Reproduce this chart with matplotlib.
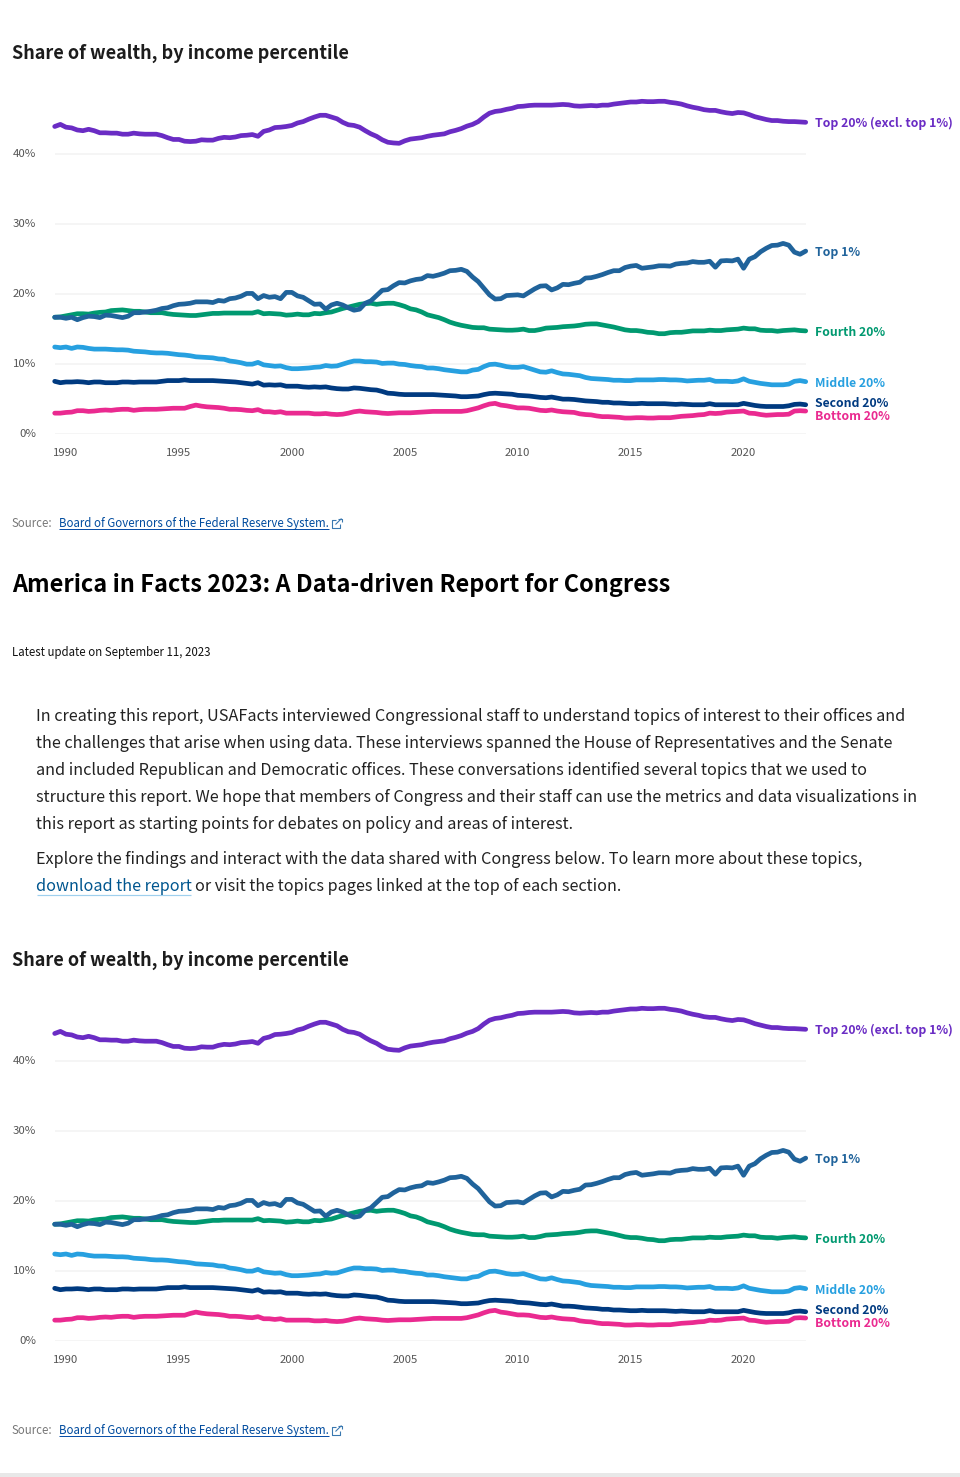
import matplotlib
matplotlib.use("Agg")
import matplotlib.pyplot as plt
from matplotlib.lines import Line2D
from matplotlib.patches import Rectangle
import numpy as np

plt.rcParams['font.family'] = ['Noto Sans CJK SC', 'DejaVu Sans']

W, H = 960, 1477

# quarterly values, 1989 Q3 to 2022 Q4
top_20 = [43.9, 44.2, 43.8, 43.7, 43.4, 43.3, 43.5, 43.3, 43.0, 43.0,
          42.95, 42.95, 42.8, 42.8, 42.95, 42.85, 42.8, 42.8, 42.8, 42.6,
          42.3, 42.05, 42.05, 41.8, 41.75, 41.8, 42.0, 41.95, 41.95, 42.2,
          42.35, 42.3, 42.4, 42.6, 42.65, 42.75, 42.5, 43.2, 43.4, 43.75,
          43.8, 43.9, 44.05, 44.4, 44.6, 44.95, 45.25, 45.5, 45.5, 45.25,
          45.0, 44.5, 44.15, 44.05, 43.8, 43.3, 42.85, 42.5, 42.0, 41.65,
          41.55, 41.5, 41.85, 42.1, 42.2, 42.3, 42.5, 42.65, 42.75, 42.85,
          43.15, 43.35, 43.6, 43.95, 44.2, 44.6, 45.25, 45.8, 46.05, 46.15,
          46.35, 46.5, 46.75, 46.8, 46.9, 46.95, 46.95, 46.95, 46.95, 47.0,
          47.05, 47.0, 46.85, 46.8, 46.85, 46.9, 46.85, 46.95, 46.95, 47.1,
          47.2, 47.3, 47.4, 47.4, 47.5, 47.45, 47.45, 47.5, 47.5, 47.35,
          47.25, 47.1, 46.85, 46.65, 46.5, 46.3, 46.2, 46.2, 46.0, 45.85,
          45.75, 45.9, 45.85, 45.6, 45.3, 45.1, 44.9, 44.75, 44.75, 44.65,
          44.6, 44.6, 44.55, 44.5]
top_1 = [16.65, 16.65, 16.5, 16.65, 16.3, 16.6, 16.8, 16.75, 16.6, 16.95,
         16.9, 16.75, 16.6, 16.8, 17.3, 17.3, 17.4, 17.5, 17.65, 17.9,
         18.0, 18.3, 18.5, 18.55, 18.65, 18.85, 18.85, 18.85, 18.75, 19.05,
         18.95, 19.3, 19.4, 19.65, 20.05, 20.05, 19.3, 19.75, 19.5, 19.6,
         19.3, 20.2, 20.2, 19.7, 19.5, 19.0, 18.5, 18.55, 17.8, 18.4,
         18.65, 18.4, 18.0, 17.65, 17.8, 18.65, 19.0, 19.75, 20.5, 20.6,
         21.15, 21.6, 21.55, 21.85, 22.05, 22.15, 22.6, 22.5, 22.7, 22.95,
         23.3, 23.35, 23.5, 23.2, 22.4, 21.75, 20.8, 19.85, 19.25, 19.3,
         19.75, 19.8, 19.85, 19.7, 20.2, 20.7, 21.1, 21.15, 20.55, 20.85,
         21.35, 21.3, 21.5, 21.65, 22.25, 22.3, 22.5, 22.75, 23.05, 23.3,
         23.3, 23.75, 23.95, 24.05, 23.65, 23.75, 23.85, 24.0, 24.0, 23.95,
         24.25, 24.35, 24.4, 24.6, 24.5, 24.5, 24.65, 23.8, 24.7, 24.75,
         24.7, 24.95, 23.65, 24.95, 25.3, 26.0, 26.5, 26.9, 26.95, 27.2,
         26.95, 25.95, 25.65, 26.1]
fourth_20 = [16.65, 16.7, 16.85, 17.0, 17.15, 17.15, 17.1, 17.25, 17.35, 17.4,
             17.6, 17.65, 17.7, 17.6, 17.5, 17.5, 17.4, 17.3, 17.3, 17.3,
             17.15, 17.05, 17.0, 16.95, 16.9, 16.9, 17.0, 17.1, 17.2, 17.2,
             17.25, 17.25, 17.25, 17.25, 17.25, 17.25, 17.45, 17.15, 17.2, 17.15,
             17.1, 16.95, 17.0, 17.1, 17.0, 17.0, 17.2, 17.15, 17.3, 17.4,
             17.65, 17.9, 18.1, 18.3, 18.5, 18.6, 18.65, 18.5, 18.6, 18.65,
             18.65, 18.45, 18.2, 17.85, 17.7, 17.4, 17.0, 16.8, 16.6, 16.3,
             15.95, 15.7, 15.5, 15.35, 15.2, 15.15, 15.15, 14.95, 14.9, 14.85,
             14.8, 14.8, 14.85, 14.95, 14.75, 14.75, 14.9, 15.1, 15.15, 15.2,
             15.3, 15.35, 15.4, 15.5, 15.65, 15.7, 15.7, 15.55, 15.4, 15.25,
             15.05, 14.85, 14.75, 14.75, 14.65, 14.5, 14.45, 14.3, 14.3, 14.45,
             14.5, 14.5, 14.6, 14.7, 14.7, 14.7, 14.8, 14.75, 14.75, 14.85,
             14.9, 14.95, 15.1, 15.0, 15.0, 14.8, 14.75, 14.75, 14.65, 14.75,
             14.8, 14.85, 14.75, 14.7]
middle_20 = [12.4, 12.3, 12.4, 12.2, 12.4, 12.35, 12.2, 12.1, 12.1, 12.1,
             12.05, 12.0, 12.0, 11.95, 11.8, 11.75, 11.7, 11.6, 11.55, 11.55,
             11.5, 11.4, 11.3, 11.25, 11.15, 11.0, 10.95, 10.9, 10.85, 10.7,
             10.65, 10.4, 10.3, 10.15, 9.95, 9.95, 10.2, 9.85, 9.75, 9.65,
             9.7, 9.45, 9.3, 9.3, 9.35, 9.4, 9.5, 9.55, 9.75, 9.65,
             9.7, 9.95, 10.2, 10.4, 10.4, 10.3, 10.3, 10.25, 10.05, 10.1,
             10.1, 9.95, 9.9, 9.75, 9.65, 9.6, 9.4, 9.4, 9.3, 9.15,
             9.05, 8.95, 8.85, 8.85, 9.1, 9.2, 9.6, 9.9, 9.95, 9.8,
             9.6, 9.5, 9.5, 9.6, 9.35, 9.1, 8.85, 8.8, 9.0, 8.75,
             8.55, 8.5, 8.4, 8.3, 8.05, 7.9, 7.85, 7.8, 7.75, 7.65,
             7.65, 7.6, 7.6, 7.7, 7.7, 7.7, 7.7, 7.75, 7.75, 7.7,
             7.7, 7.65, 7.55, 7.6, 7.65, 7.65, 7.75, 7.5, 7.5, 7.5,
             7.45, 7.55, 7.85, 7.5, 7.35, 7.2, 7.1, 7.0, 7.0, 7.0,
             7.1, 7.5, 7.6, 7.45]
second_20 = [7.5, 7.3, 7.4, 7.4, 7.45, 7.4, 7.3, 7.4, 7.4, 7.3,
             7.3, 7.3, 7.4, 7.4, 7.35, 7.4, 7.4, 7.4, 7.4, 7.5,
             7.6, 7.6, 7.6, 7.7, 7.6, 7.6, 7.6, 7.6, 7.6, 7.55,
             7.5, 7.45, 7.4, 7.3, 7.2, 7.1, 7.3, 6.95, 7.0, 6.95,
             7.0, 6.8, 6.8, 6.8, 6.7, 6.65, 6.7, 6.65, 6.7, 6.55,
             6.45, 6.4, 6.4, 6.55, 6.5, 6.4, 6.3, 6.25, 6.05, 5.8,
             5.75, 5.65, 5.6, 5.6, 5.6, 5.6, 5.6, 5.6, 5.55, 5.5,
             5.45, 5.4, 5.3, 5.3, 5.35, 5.4, 5.6, 5.75, 5.8, 5.75,
             5.7, 5.65, 5.5, 5.45, 5.4, 5.3, 5.2, 5.15, 5.25, 5.1,
             4.95, 4.95, 4.9, 4.8, 4.7, 4.65, 4.6, 4.5, 4.5, 4.4,
             4.4, 4.35, 4.3, 4.3, 4.35, 4.3, 4.3, 4.3, 4.3, 4.25,
             4.2, 4.25, 4.2, 4.15, 4.15, 4.15, 4.3, 4.15, 4.15, 4.15,
             4.15, 4.15, 4.35, 4.2, 4.05, 3.95, 3.9, 3.9, 3.9, 3.9,
             4.0, 4.2, 4.25, 4.15]
bottom_20 = [2.95, 2.95, 3.05, 3.1, 3.3, 3.3, 3.2, 3.25, 3.35, 3.4,
             3.35, 3.45, 3.5, 3.5, 3.35, 3.45, 3.5, 3.5, 3.5, 3.55,
             3.6, 3.65, 3.65, 3.65, 3.9, 4.1, 3.95, 3.85, 3.8, 3.75,
             3.65, 3.5, 3.5, 3.45, 3.35, 3.3, 3.45, 3.15, 3.15, 3.05,
             3.15, 2.95, 2.95, 2.95, 2.95, 2.95, 2.85, 2.85, 2.9, 2.8,
             2.75, 2.8, 2.95, 3.15, 3.25, 3.15, 3.1, 3.05, 2.95, 2.9,
             2.95, 3.0, 3.0, 3.0, 3.05, 3.1, 3.15, 3.2, 3.2, 3.2,
             3.2, 3.2, 3.2, 3.3, 3.5, 3.7, 4.0, 4.25, 4.35, 4.1,
             4.0, 3.85, 3.7, 3.7, 3.65, 3.5, 3.35, 3.3, 3.4, 3.25,
             3.15, 3.1, 3.05, 2.85, 2.75, 2.7, 2.55, 2.45, 2.45, 2.4,
             2.35, 2.25, 2.25, 2.3, 2.3, 2.25, 2.25, 2.3, 2.3, 2.3,
             2.4, 2.5, 2.55, 2.6, 2.7, 2.75, 2.95, 2.9, 2.95, 3.1,
             3.15, 3.2, 3.25, 2.95, 2.9, 2.75, 2.65, 2.7, 2.75, 2.75,
             2.8, 3.25, 3.3, 3.25]

series_names = ["Top 20% (excl. top 1%)", "Top 1%", "Fourth 20%",
                "Middle 20%", "Second 20%", "Bottom 20%"]
series_values = [top_20, top_1, fourth_20, middle_20, second_20, bottom_20]
series_colors = ["#6a2cc4", "#20639b", "#009970", "#27a0e0", "#003a80", "#ea2a90"]
year_ticks = [1990, 1995, 2000, 2005, 2010, 2015, 2020]
pct_ticks = [0, 10, 20, 30, 40]
quarters = 1989.5 + 0.25 * np.arange(len(top_20))

chart_title = "Share of wealth, by income percentile"
source_link = "Board of Governors of the Federal Reserve System."
page_title = "America in Facts 2023: A Data-driven Report for Congress"
update_line = "Latest update on September 11, 2023"
body_lines = [
    "In creating this report, USAFacts interviewed Congressional staff to understand topics of interest to their offices and",
    "the challenges that arise when using data. These interviews spanned the House of Representatives and the Senate",
    "and included Republican and Democratic offices. These conversations identified several topics that we used to",
    "structure this report. We hope that members of Congress and their staff can use the metrics and data visualizations in",
    "this report as starting points for debates on policy and areas of interest.",
    "Explore the findings and interact with the data shared with Congress below. To learn more about these topics,",
]
body_y = [715, 742, 769, 796, 823, 858]


def put_text(fig, x, y, s, px, color="#222222", weight="normal", **kwargs):
    # x, y in picture pixels from the top left
    return fig.text(x / W, 1 - (y + 1.2) / H, s, fontsize=px * 0.72, color=color, fontweight=weight,
                    va="center", ha=kwargs.pop("ha", "left"), **kwargs)


def put_line(fig, xs, ys, color, lw_px=1.0):
    fig.add_artist(Line2D([x / W for x in xs], [1 - y / H for y in ys], color=color,
                          lw=lw_px * 0.72, transform=fig.transFigure, solid_capstyle="butt"))


def draw_chart(fig, dy):
    left, right, base, top = 54.7, 805.7, 433.8 + dy, 83.8 + dy
    ax = fig.add_axes([left / W, 1 - base / H, (right - left) / W, (base - top) / H])
    ax.set_xlim(1989.5, quarters[-1])
    ax.set_ylim(0, 50)
    for s in ax.spines.values():
        s.set_visible(False)
    ax.set_yticks(pct_ticks)
    ax.set_yticklabels(["%d%%" % p for p in pct_ticks], va="center")
    ax.set_xticks(year_ticks)
    ax.tick_params(length=0, labelsize=8.2, labelcolor="#555555")
    ax.tick_params(axis="y", pad=13.3)
    ax.tick_params(axis="x", pad=10)
    ax.grid(axis="y", color="#f2f2f2", lw=1.1)
    ax.set_axisbelow(True)

    nudge = {"Second 20%": 2.5, "Bottom 20%": -4, "Fourth 20%": -1, "Middle 20%": -1}
    order = [0, 2, 1, 3, 5, 4]
    for i in order:
        ax.plot(quarters, series_values[i], color=series_colors[i], lw=3.4, clip_on=False,
                solid_capstyle="round", solid_joinstyle="round", zorder=3)
        off = (nudge.get(series_names[i], 0) - 1) * 0.72
        ax.annotate(series_names[i], (quarters[-1], series_values[i][-1]), xytext=(7, off),
                    textcoords="offset points", color=series_colors[i], fontsize=8.85,
                    fontweight="bold", va="center", annotation_clip=False)

    put_text(fig, 12, 52 + dy, chart_title, 18.1, color="#1c1c1c", weight="bold")

    # source line with link and little external link icon
    put_text(fig, 12, 522 + dy, "Source:", 11.45, color="#777777")
    put_text(fig, 59, 522 + dy, source_link, 11.45, color="#004b9e")
    put_line(fig, [59, 328.5], [528.5 + dy, 528.5 + dy], "#0a4fa8", 1.0)
    ix, iy = 332, 519 + dy
    put_line(fig, [ix + 4, ix, ix, ix + 8, ix + 8], [iy + 1, iy + 1, iy + 9, iy + 9, iy + 5], "#3a78b0", 1.1)
    put_line(fig, [ix + 3.5, ix + 9.5], [iy + 5.5, iy - 0.5], "#3a78b0", 1.1)
    put_line(fig, [ix + 6, ix + 9.5, ix + 9.5], [iy - 0.5, iy - 0.5, iy + 3], "#3a78b0", 1.1)


fig = plt.figure(figsize=(W / 100, H / 100), dpi=100, facecolor="white")

draw_chart(fig, 0)
draw_chart(fig, 907)

put_text(fig, 12, 584, page_title, 23.5, color="#000000", weight="bold")
put_text(fig, 12, 651, update_line, 11.45, color="#111111")
for line, y in zip(body_lines, body_y):
    put_text(fig, 36.5, y, line, 16.2, color="#222222")
put_text(fig, 36.5, 885, "download the report", 16.2, color="#00568f")
put_line(fig, [36.5, 190.5], [894.5, 894.5], "#9fd0ee", 1.2)
put_text(fig, 195, 885, "or visit the topics pages linked at the top of each section.", 16.2, color="#222222")

fig.add_artist(Rectangle((0, 0), 1, 4 / H, transform=fig.transFigure, facecolor="#e8e8e8", edgecolor="none"))

fig.savefig("out.png", dpi=100)
